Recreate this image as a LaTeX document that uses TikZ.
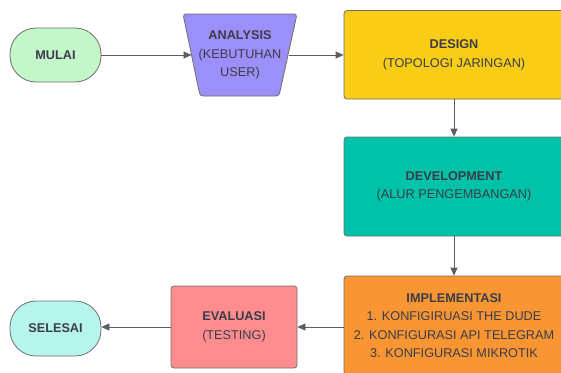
\documentclass[tikz,border=0pt]{standalone}
\usepackage{fontspec}
\setmainfont{Liberation Sans}
\usetikzlibrary{arrows.meta}
\definecolor{cMulai}{HTML}{C3F6C8}
\definecolor{cAna}{HTML}{9B90FA}
\definecolor{cDes}{HTML}{F9CC16}
\definecolor{cDev}{HTML}{00C2A8}
\definecolor{cImp}{HTML}{F99533}
\definecolor{cEva}{HTML}{FF8C8E}
\definecolor{cSel}{HTML}{B6F5EC}
\definecolor{cBorder}{HTML}{6E6E6E}
\definecolor{cText}{HTML}{3A3D48}
\definecolor{cLine}{HTML}{5A5D66}
\tikzset{
  base/.style={draw=cBorder, line width=0.8pt, text=cText, align=center, inner sep=0pt,
    font=\fontsize{12.7}{18.5}\selectfont},
  terminal/.style={base, rounded corners=26pt, minimum width=91pt, minimum height=54pt},
  procbox/.style={base, rounded corners=3pt},
  conn/.style={draw=cLine, line width=0.8pt, -{Triangle[length=8pt,width=7pt]}},
}
\begin{document}
\begin{tikzpicture}[x=1pt,y=-1pt]
\useasboundingbox (0,0) rectangle (561,372);
\node[terminal, fill=cMulai] (mulai) at (55.5,55) {\textbf{MULAI}};
% trapezoid
\coordinate (anaTL) at (183,14);
\coordinate (anaTR) at (297,14);
\coordinate (anaBR) at (279,96);
\coordinate (anaBL) at (200,96);
\draw[draw=cBorder, line width=0.8pt, fill=cAna, rounded corners=3pt]
  (anaTL) -- (anaTR) -- (anaBR) -- (anaBL) -- cycle;
\coordinate (anaW) at (191.5,55);
\coordinate (anaE) at (288.5,55);
\node[base, draw=none] (ana) at (240,55) {\textbf{ANALYSIS}\\(KEBUTUHAN\\USER)};
\node[procbox, fill=cDes, minimum width=220pt, minimum height=88.5pt] (des) at (454,54.75)
  {\textbf{DESIGN}\\(TOPOLOGI JARINGAN)};
\node[procbox, fill=cDev, minimum width=220pt, minimum height=99pt] (dev) at (454,186.5)
  {\textbf{DEVELOPMENT}\\(ALUR PENGEMBANGAN)};
\node[procbox, fill=cImp, minimum width=220pt, minimum height=99pt] (imp) at (454,325.5)
  {\textbf{IMPLEMENTASI}\\1. KONFIGIRUASI THE DUDE\\2. KONFIGURASI API TELEGRAM\\3. KONFIGURASI MIKROTIK};
\node[procbox, fill=cEva, minimum width=126pt, minimum height=82pt] (eva) at (234,327)
  {\textbf{EVALUASI}\\(TESTING)};
\node[terminal, fill=cSel, minimum height=55pt] (sel) at (55.5,328.5) {\textbf{SELESAI}};
\draw[conn] (mulai.east) -- (anaW);
\draw[conn] (anaE) -- (des.west |- anaE);
\draw[conn] (des) -- (dev);
\draw[conn] (dev) -- (imp);
\draw[conn] (imp.west |- eva.east) -- (eva.east);
\draw[conn] (eva.west) -- (sel.east |- eva.west);
\end{tikzpicture}
\end{document}
